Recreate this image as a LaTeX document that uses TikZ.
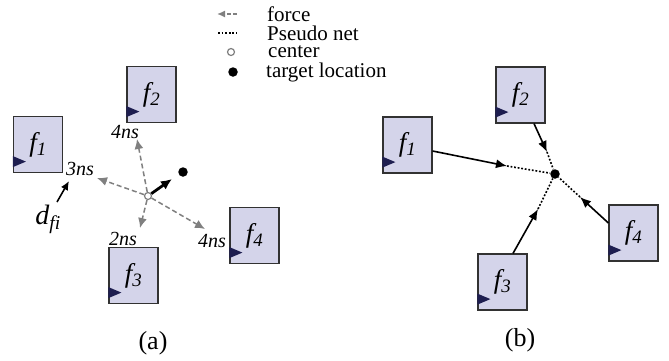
\documentclass[tikz,border=0pt]{standalone}
\usepackage{fontspec}
\setmainfont{LiberationSerif}[Extension=.ttf, UprightFont=*-Regular, ItalicFont=*-Italic, BoldFont=*-Bold, BoldItalicFont=*-BoldItalic]
\usetikzlibrary{arrows.meta}
\definecolor{boxfill}{RGB}{212,212,234}
\definecolor{boxline}{RGB}{50,50,50}
\definecolor{tri}{RGB}{30,30,80}
\definecolor{forcegray}{RGB}{128,128,128}
\tikzset{
  fbox/.style={draw=boxline, line width=1.2pt, fill=boxfill, minimum width=49pt, minimum height=56pt, inner sep=0pt, font=\fontsize{27}{30}\selectfont\itshape},
  forcearrow/.style={draw=forcegray, line width=1.5pt, dash pattern=on 5pt off 3pt, -{Latex[length=10pt,width=9pt]}},
  pseudo/.style={line width=1.6pt, dash pattern=on 1.8pt off 1.8pt},
  solidarrow/.style={line width=1.6pt, -{Latex[length=11pt,width=9pt]}},
  ctr/.style={circle, draw=forcegray, fill=white, line width=1.2pt, minimum size=7pt, inner sep=0pt},
  tgt/.style={circle, fill=black, minimum size=9.5pt, inner sep=0pt},
  nslabel/.style={font=\fontsize{20}{22}\selectfont\itshape, inner sep=0pt},
  legtext/.style={font=\fontsize{21}{24}\selectfont, anchor=west, inner sep=0pt},
  caplabel/.style={font=\fontsize{26}{30}\selectfont, inner sep=0pt}
}
\newcommand{\tritag}[1]{\fill[tri] ([yshift=6pt]#1.south west) -- ++(0pt,11pt) -- ++(13pt,-5.5pt) -- cycle;}
\begin{document}
\begin{tikzpicture}[x=1pt,y=-1pt]
\useasboundingbox (0,0) rectangle (669,360);
% ---------- legend ----------
\coordinate (lf1) at (237,14); \coordinate (lf2) at (217,14);
\draw[forcearrow, dash pattern=on 4pt off 2.5pt, -{Latex[length=8pt,width=7pt]}] (lf1) -- (lf2);
\node[legtext] (lt1) at (267,14) {force};
\coordinate (lp1) at (218,33); \coordinate (lp2) at (237,33);
\draw[pseudo, line width=2pt] (lp1) -- (lp2);
\node[legtext] (lt2) at (267,33) {Pseudo net};
\node[ctr] (lc) at (231,52) {};
\node[legtext] (lt3) at (268,52) {center};
\node[tgt] (ld) at (233,72) {};
\node[legtext] (lt4) at (266,72) {target location};
% ---------- panel (a) ----------
\node[fbox] (a1) at (38,144.5) {f\textsubscript{1}};
\node[fbox] (a2) at (151.5,94.5) {f\textsubscript{2}};
\node[fbox] (a3) at (133.5,275.5) {f\textsubscript{3}};
\node[fbox] (a4) at (254.5,235.5) {f\textsubscript{4}};
\tritag{a1}\tritag{a2}\tritag{a3}\tritag{a4}
\node[ctr] (c) at (148,196) {};
\node[tgt] (t) at (183,172) {};
\coordinate (e1) at (97,178);
\coordinate (e2) at (137,139);
\coordinate (e3) at (140,228);
\coordinate (e4) at (205,229);
\draw[forcearrow] (c) -- (e1);
\draw[forcearrow] (c) -- (e2);
\draw[forcearrow] (c) -- (e3);
\draw[forcearrow] (c) -- (e4);
\coordinate (m) at (172,179);
\draw[line width=2.8pt, -{Latex[length=11pt,width=10pt]}] (c) -- (m);
\node[nslabel] (n1) at (80,169) {3ns};
\node[nslabel] (n2) at (125,132) {4ns};
\node[nslabel] (n3) at (123,239) {2ns};
\node[nslabel] (n4) at (212,241) {4ns};
\coordinate (d1) at (57,202); \coordinate (d2) at (69,181);
\draw[line width=1.6pt, -{Latex[length=9pt,width=8pt]}] (d1) -- (d2);
\node[font=\fontsize{28}{30}\selectfont\itshape, inner sep=0pt] (dl) at (48,219) {d\textsubscript{fi}};
\node[caplabel] (capa) at (153,343) {(a)};
% ---------- panel (b) ----------
\node[fbox] (b1) at (407.5,145) {f\textsubscript{1}};
\node[fbox] (b2) at (520.5,95) {f\textsubscript{2}};
\node[fbox] (b3) at (502.5,282) {f\textsubscript{3}};
\node[fbox] (b4) at (633.5,233) {f\textsubscript{4}};
\tritag{b1}\tritag{b2}\tritag{b3}\tritag{b4}
\node[tgt] (bt) at (555,174) {};
\coordinate (q1) at (507,166);
\coordinate (q2) at (547,152);
\coordinate (q3) at (538,209);
\coordinate (q4) at (580,197);
\draw[solidarrow] ([yshift=-6pt]b1.east) -- (q1);
\draw[solidarrow] ([xshift=13.5pt]b2.south) -- (q2);
\draw[solidarrow] ([xshift=10.5pt]b3.north) -- (q3);
\draw[solidarrow] ([yshift=10pt]b4.west) -- (q4);
\draw[pseudo] (q1) -- (bt);
\draw[pseudo] (q2) -- (bt);
\draw[pseudo] (q3) -- (bt);
\draw[pseudo] (q4) -- (bt);
\node[caplabel] (capb) at (520,340) {(b)};
\end{tikzpicture}
\end{document}
